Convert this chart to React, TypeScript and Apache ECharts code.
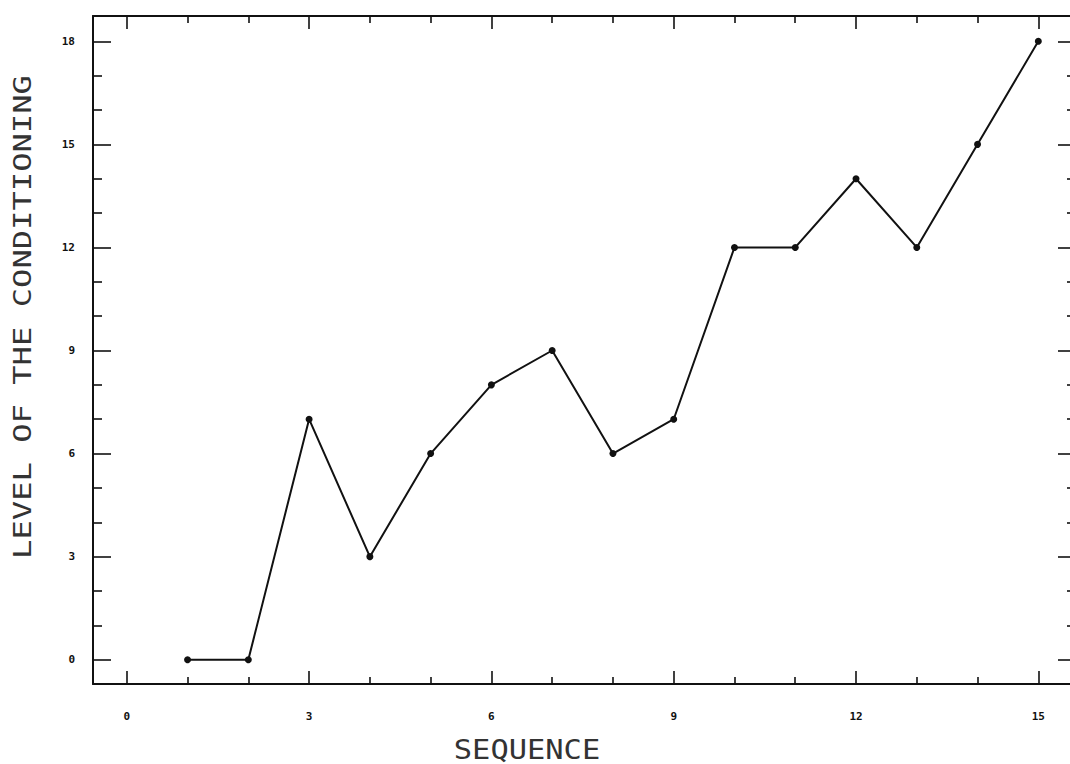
import React, { useEffect, useRef } from "react";
import * as echarts from "echarts";

const sequence = [1, 2, 3, 4, 5, 6, 7, 8, 9, 10, 11, 12, 13, 14, 15];
const level = [0, 0, 7, 3, 6, 8, 9, 6, 7, 12, 12, 14, 12, 15, 18];
const xMajorTicks = [0, 3, 6, 9, 12, 15];
const xMinorTicks = [1, 2, 4, 5, 7, 8, 10, 11, 13, 14];
const yMajorTicks = [0, 3, 6, 9, 12, 15, 18];
const yMinorTicks = [1, 2, 4, 5, 7, 8, 10, 11, 13, 14, 16, 17];
const xTitle = "SEQUENCE";
const yTitle = "LEVEL OF THE CONDITIONING";

const INK = "#111";
const X_MIN = -0.556;
const X_MAX = 15.62;
const Y_MIN = -0.707;
const Y_MAX = 18.736;

function xAxisDef(position: "bottom" | "top", ticks: number[], len: number, labels: boolean, line: boolean) {
  return {
    type: "value",
    position,
    min: X_MIN,
    max: X_MAX,
    offset: 0,
    splitLine: { show: false },
    axisLine: { show: line, onZero: false, lineStyle: { color: INK, width: 2 } },
    axisTick: {
      show: true,
      inside: true,
      length: len,
      customValues: ticks,
      lineStyle: { color: INK, width: 1.6 },
    },
    axisLabel: labels
      ? {
          show: true,
          customValues: ticks,
          margin: 27,
          color: INK,
          fontSize: 11,
          fontWeight: "bold",
          fontFamily: "DejaVu Sans Mono",
        }
      : { show: false },
  };
}

function yAxisDef(position: "left" | "right", ticks: number[], len: number, labels: boolean, line: boolean) {
  return {
    type: "value",
    position,
    min: Y_MIN,
    max: Y_MAX,
    offset: 0,
    splitLine: { show: false },
    axisLine: { show: line, onZero: false, lineStyle: { color: INK, width: 2 } },
    axisTick: {
      show: true,
      inside: true,
      length: len,
      customValues: ticks,
      lineStyle: { color: INK, width: 1.6 },
    },
    axisLabel: labels
      ? {
          show: true,
          customValues: ticks,
          margin: 18,
          color: INK,
          fontSize: 11,
          fontWeight: "bold",
          fontFamily: "DejaVu Sans Mono",
        }
      : { show: false },
  };
}

export default function App() {
  const ref = useRef<HTMLDivElement>(null);

  useEffect(() => {
    if (!ref.current) return;
    const chart = echarts.init(ref.current, undefined, { renderer: "svg" });
    const points = sequence.map((s, i) => [s, level[i]]);
    chart.setOption({
      animation: false,
      backgroundColor: "#ffffff",
      grid: {
        left: 93,
        top: 16,
        width: 983,
        height: 668,
        containLabel: false,
        outerBoundsMode: "none",
      },
      xAxis: [
        xAxisDef("bottom", xMajorTicks, 13, true, true),
        xAxisDef("bottom", xMinorTicks, 7, false, false),
        xAxisDef("top", xMajorTicks, 13, false, true),
        xAxisDef("top", xMinorTicks, 7, false, false),
      ],
      yAxis: [
        yAxisDef("left", yMajorTicks, 18, true, true),
        yAxisDef("left", yMinorTicks, 9, false, false),
        yAxisDef("right", yMajorTicks, 18, false, true),
        yAxisDef("right", yMinorTicks, 9, false, false),
      ],
      graphic: [
        {
          type: "text",
          x: 527,
          y: 750,
          scaleX: 1.17,
          style: {
            text: xTitle,
            fontSize: 26,
            fontFamily: "DejaVu Sans Mono",
            fill: "#333",
            textAlign: "center",
            textVerticalAlign: "middle",
          },
        },
        {
          type: "text",
          x: 23,
          y: 317,
          rotation: Math.PI / 2,
          scaleX: 1.34,
          style: {
            text: yTitle,
            fontSize: 24,
            fontFamily: "DejaVu Sans Mono",
            fill: "#333",
            textAlign: "center",
            textVerticalAlign: "middle",
          },
        },
      ],
      series: [
        {
          type: "line",
          xAxisIndex: 0,
          yAxisIndex: 0,
          data: points,
          symbol: "circle",
          symbolSize: 7,
          showSymbol: true,
          lineStyle: { color: INK, width: 2 },
          itemStyle: { color: INK },
          z: 5,
        },
      ],
    });
    return () => chart.dispose();
  }, []);

  return (
    <div
      ref={ref}
      style={{ position: "fixed", left: 0, top: 0, width: 1070, height: 764, background: "#fff" }}
    />
  );
}
